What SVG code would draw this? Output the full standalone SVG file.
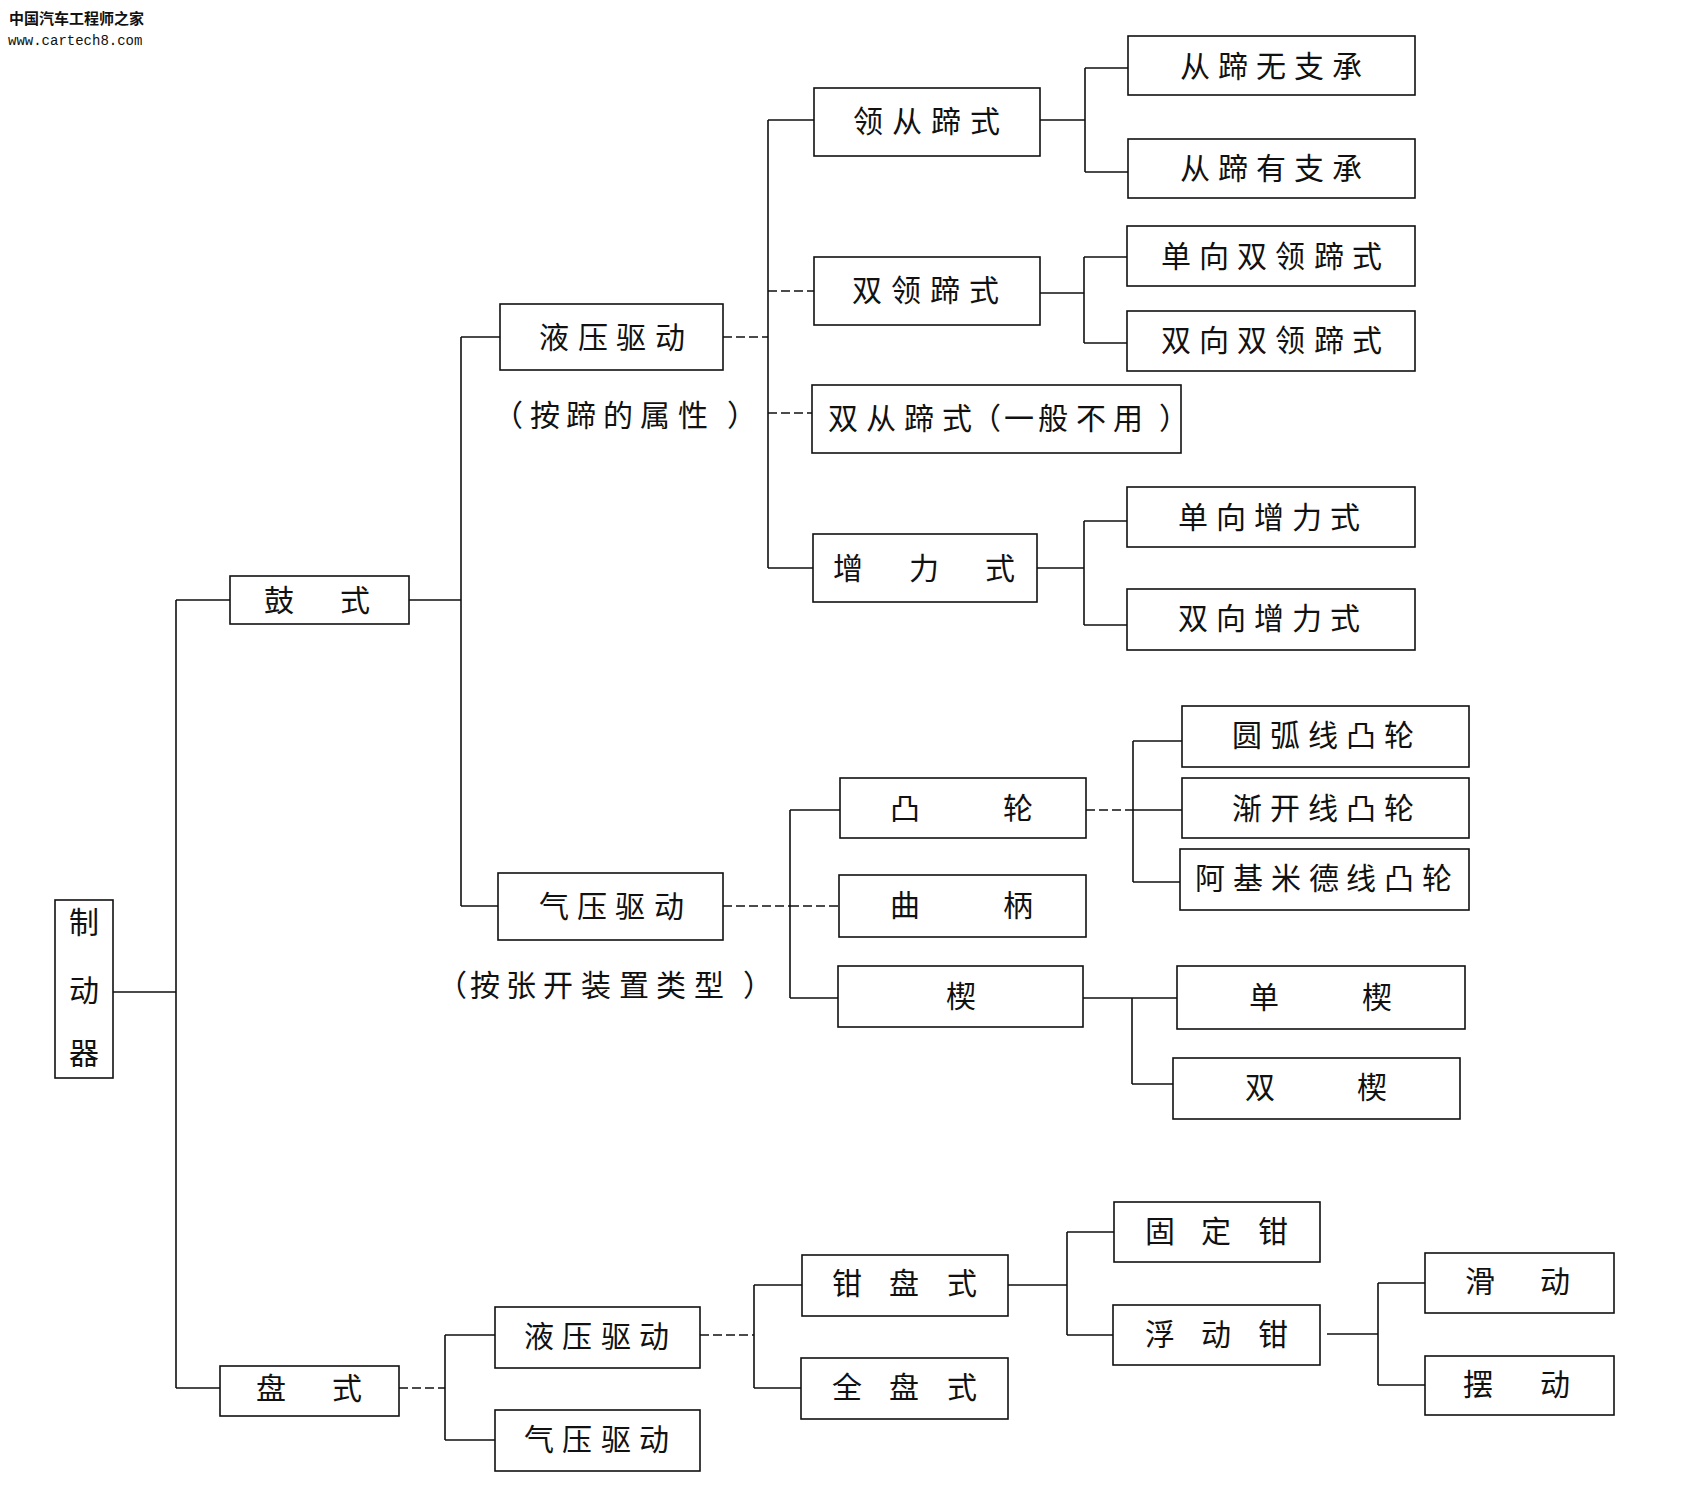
<svg xmlns="http://www.w3.org/2000/svg" width="1696" height="1501" viewBox="0 0 1696 1501">
<style>
.box{fill:#fff;stroke:#111;stroke-width:1.6}
.c{fill:none;stroke:#111;stroke-width:1.6}
.d{fill:none;stroke:#111;stroke-width:1.6;stroke-dasharray:9 4}
.t{font-family:"Noto Sans CJK SC","Noto Sans CJK JP",sans-serif;font-size:30px;fill:#111;text-anchor:middle}
.h1{font-family:"Noto Sans CJK SC",sans-serif;font-size:15px;font-weight:bold;fill:#111}
.h2{font-family:"Liberation Mono",monospace;font-size:14px;fill:#111}
</style>
<rect width="1696" height="1501" fill="#fff"/>
<text class="h1" x="9" y="24">中国汽车工程师之家</text>
<text class="h2" x="8" y="45">www.cartech8.com</text>
<g id="connectors">
<path class="c" d="M113 992H176M176 600V1388M176 600H230M176 1388H220"/>
<path class="c" d="M409 600H461M461 337V906M461 337H500M461 906H498"/>
<path class="d" d="M723 337H768"/>
<path class="c" d="M768 120V568M768 120H814M768 568H813"/>
<path class="d" d="M768 291H814M768 413H812"/>
<path class="c" d="M1040 120H1085M1085 68V172M1085 68H1128M1085 172H1128"/>
<path class="c" d="M1040 293H1084M1084 257V343M1084 257H1127M1084 343H1127"/>
<path class="c" d="M1037 568H1084M1084 521V625M1084 521H1127M1084 625H1127"/>
<path class="d" d="M723 906H790M790 906H839"/>
<path class="c" d="M790 810V998M790 810H840M790 998H838"/>
<path class="d" d="M1086 810H1133"/>
<path class="c" d="M1133 741V882M1133 741H1182M1133 810H1182M1133 882H1180"/>
<path class="c" d="M1083 998H1132M1132 998V1084M1132 998H1177M1132 1084H1173"/>
<path class="d" d="M399 1388H445"/>
<path class="c" d="M445 1335V1440M445 1335H495M445 1440H495"/>
<path class="d" d="M700 1335H754"/>
<path class="c" d="M754 1285V1388M754 1285H802M754 1388H801"/>
<path class="c" d="M1008 1285H1067M1067 1232V1335M1067 1232H1114M1067 1335H1113"/>
<path class="c" d="M1327 1334H1378M1378 1283V1385M1378 1283H1425M1378 1385H1425"/>
</g>
<g id="n-zhidongqi"><rect class="box" x="55" y="900" width="58" height="178"/><text class="t" x="84" y="933">制</text><text class="t" x="84" y="1001">动</text><text class="t" x="84" y="1064">器</text></g>
<g id="n-gushi"><rect class="box" x="230" y="576" width="179" height="48"/><text class="t" x="279 355" y="611">鼓式</text></g>
<g id="n-panshi"><rect class="box" x="220" y="1366" width="179" height="50"/><text class="t" x="271 347" y="1399">盘式</text></g>
<g id="n-yeya1"><rect class="box" x="500" y="304" width="223" height="66"/><text class="t" x="554 593 631 670" y="348">液压驱动</text></g>
<g id="n-label1"><text class="t" x="508 545 581 618 655 693 742" y="426">（按蹄的属性）</text></g>
<g id="n-qiya1"><rect class="box" x="498" y="873" width="225" height="67"/><text class="t" x="554 592 630 669" y="917">气压驱动</text></g>
<g id="n-label2"><text class="t" x="452 485 521 558 596 634 671 709 758" y="996">（按张开装置类型）</text></g>
<g id="n-lingcong"><rect class="box" x="814" y="88" width="226" height="68"/><text class="t" x="868 907 946 985" y="132">领从蹄式</text></g>
<g id="n-shuangling"><rect class="box" x="814" y="257" width="226" height="68"/><text class="t" x="867 906 945 984" y="301">双领蹄式</text></g>
<g id="n-shuangcong"><rect class="box" x="812" y="385" width="369" height="68"/><text class="t" x="843 881 919 957 986 1019 1053 1091 1128 1174" y="429">双从蹄式（一般不用）</text></g>
<g id="n-zengli"><rect class="box" x="813" y="534" width="224" height="68"/><text class="t" x="848 924 1000" y="579">增力式</text></g>
<g id="n-c1"><rect class="box" x="1128" y="36" width="287" height="59"/><text class="t" x="1195 1233 1271 1309 1347" y="77">从蹄无支承</text></g>
<g id="n-c2"><rect class="box" x="1128" y="139" width="287" height="59"/><text class="t" x="1195 1233 1271 1309 1347" y="179">从蹄有支承</text></g>
<g id="n-c3"><rect class="box" x="1127" y="226" width="288" height="60"/><text class="t" x="1176 1214 1252 1290 1329 1367" y="267">单向双领蹄式</text></g>
<g id="n-c4"><rect class="box" x="1127" y="311" width="288" height="60"/><text class="t" x="1176 1214 1252 1290 1329 1367" y="351">双向双领蹄式</text></g>
<g id="n-c5"><rect class="box" x="1127" y="487" width="288" height="60"/><text class="t" x="1193 1231 1269 1307 1345" y="528">单向增力式</text></g>
<g id="n-c6"><rect class="box" x="1127" y="589" width="288" height="61"/><text class="t" x="1193 1231 1269 1307 1345" y="629">双向增力式</text></g>
<g id="n-tulun"><rect class="box" x="840" y="778" width="246" height="60"/><text class="t" x="905 1018" y="819">凸轮</text></g>
<g id="n-qubing"><rect class="box" x="839" y="875" width="247" height="62"/><text class="t" x="905 1018" y="916">曲柄</text></g>
<g id="n-xie"><rect class="box" x="838" y="966" width="245" height="61"/><text class="t" x="961" y="1007">楔</text></g>
<g id="n-t1"><rect class="box" x="1182" y="706" width="287" height="61"/><text class="t" x="1247 1285 1323 1361 1399" y="746">圆弧线凸轮</text></g>
<g id="n-t2"><rect class="box" x="1182" y="778" width="287" height="60"/><text class="t" x="1247 1285 1323 1361 1399" y="819">渐开线凸轮</text></g>
<g id="n-t3"><rect class="box" x="1180" y="849" width="289" height="61"/><text class="t" x="1210 1248 1286 1324 1361 1399 1437" y="889">阿基米德线凸轮</text></g>
<g id="n-danxie"><rect class="box" x="1177" y="966" width="288" height="63"/><text class="t" x="1264 1377" y="1008">单楔</text></g>
<g id="n-shuangxie"><rect class="box" x="1173" y="1058" width="287" height="61"/><text class="t" x="1260 1372" y="1098">双楔</text></g>
<g id="n-yeya2"><rect class="box" x="495" y="1307" width="205" height="61"/><text class="t" x="539 577 616 654" y="1347">液压驱动</text></g>
<g id="n-qiya2"><rect class="box" x="495" y="1410" width="205" height="61"/><text class="t" x="539 577 616 654" y="1450">气压驱动</text></g>
<g id="n-qianpan"><rect class="box" x="802" y="1255" width="206" height="61"/><text class="t" x="847 904 962" y="1294">钳盘式</text></g>
<g id="n-quanpan"><rect class="box" x="801" y="1358" width="207" height="61"/><text class="t" x="847 904 962" y="1398">全盘式</text></g>
<g id="n-guding"><rect class="box" x="1114" y="1202" width="206" height="60"/><text class="t" x="1160 1216 1273" y="1242">固定钳</text></g>
<g id="n-fudong"><rect class="box" x="1113" y="1305" width="207" height="60"/><text class="t" x="1160 1216 1273" y="1345">浮动钳</text></g>
<g id="n-huadong"><rect class="box" x="1425" y="1253" width="189" height="60"/><text class="t" x="1480 1555" y="1292">滑动</text></g>
<g id="n-baidong"><rect class="box" x="1425" y="1356" width="189" height="59"/><text class="t" x="1478 1555" y="1395">摆动</text></g>
</svg>
